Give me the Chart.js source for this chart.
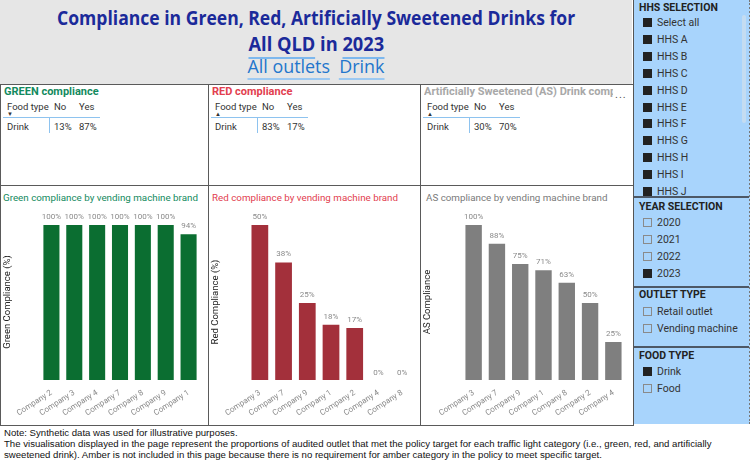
<!DOCTYPE html>
<html>
<head>
<meta charset="utf-8">
<script src="https://cdn.jsdelivr.net/npm/chart.js@4.4.1/dist/chart.umd.min.js"></script>
<style>
  body { margin: 0; width: 750px; height: 463px; background: #fff; position: relative; overflow: hidden; font-family: Roboto, "Open Sans", sans-serif; }
  .abs { position: absolute; }
  #header { left: 0; top: 0; width: 632px; height: 84px; background: #e6e6e6; border-bottom: 1px solid #9a9a9a; }
  .tline { position: absolute; left: 0; width: 632px; text-align: center; white-space: nowrap; }
  .tline span { display: inline-block; transform-origin: center; }
  .card { position: absolute; background: #fff; border: 1px solid #5a5a5a; box-sizing: border-box; }
  .ctitle { position: absolute; font-weight: bold; font-size: 11px; white-space: nowrap; overflow: hidden; }
  .tbl { position: absolute; font-family: Roboto, sans-serif; font-size: 9.5px; color: #333; }
  .tbl div { position: absolute; white-space: nowrap; }
  .chtitle { position: absolute; font-size: 9.8px; white-space: nowrap; }
  #panel { left: 633px; top: 0; width: 115px; height: 424px; background: #a8d4fc; border-left: 1px solid #555; border-right: 2px dotted #777; }
  .ph { position: absolute; left: 5px; font-weight: bold; font-size: 10.5px; color: #222; }
  .item { position: absolute; left: 9px; font-size: 10.5px; color: #333; white-space: nowrap; }
  .box { display: inline-block; width: 9px; height: 9px; vertical-align: -1px; margin-right: 5px; box-sizing: border-box; }
  .on { background: #222; }
  .off { border: 1px solid #8a8a8a; }
  .sep { position: absolute; left: 0; width: 115px; height: 0; border-top: 2px solid #4d5866; }
  .ul1 { text-decoration: none; border-bottom: 2px solid #7db8ee; }
  .ul2 { text-decoration: none; border-bottom: 2px solid #9cc9f2; }
  #foot { left: 4px; top: 428px; font-family: "Liberation Sans", Arial, sans-serif; font-size: 9.6px; line-height: 10.8px; color: #111; }
</style>
</head>
<body>
<div id="header" class="abs">
  <div class="tline" style="top:4px;font-size:20px;font-weight:bold;color:#1b2a9a;font-family:'Open Sans',sans-serif;"><span id="t1"></span></div>
  <div class="tline" style="top:30px;font-size:20px;font-weight:bold;color:#1b2a9a;font-family:'Open Sans',sans-serif;"><span id="t2"></span></div>
  <div class="tline" style="top:54px;font-size:18px;color:#2376cc;font-family:'Open Sans',sans-serif;"><span id="t3"></span></div>
</div>

<div class="card" style="left:0;top:84px;width:210px;height:102px;"></div>
<div class="card" style="left:208px;top:84px;width:214px;height:102px;"></div>
<div class="card" style="left:420px;top:84px;width:214px;height:102px;"></div>
<div class="card" style="left:0;top:185px;width:210px;height:241px;"></div>
<div class="card" style="left:208px;top:185px;width:214px;height:241px;"></div>
<div class="card" style="left:420px;top:185px;width:214px;height:241px;"></div>

<div id="tables"></div>

<div class="chtitle" style="left:3px;top:192px;color:#138a5e;">Green compliance by vending machine brand</div>
<div class="chtitle" style="left:212px;top:192px;color:#e2404f;">Red compliance by vending machine brand</div>
<div class="chtitle" style="left:426px;top:192px;color:#7a7a7a;">AS compliance by vending machine brand</div>

<canvas id="greenChart" class="abs" style="left:2px;top:205px;" width="205" height="219"></canvas>
<canvas id="redChart" class="abs" style="left:210px;top:205px;" width="209" height="219"></canvas>
<canvas id="asChart" class="abs" style="left:422px;top:205px;" width="209" height="219"></canvas>

<div id="panel" class="abs"></div>

<div id="foot" class="abs">
  Note: Synthetic data was used for illustrative purposes.<br>
  The visualisation displayed in the page represent the proportions of audited outlet that met the policy target for each traffic light category (i.e., green, red, and artificially<br>
  sweetened drink). Amber is not included in this page because there is no requirement for amber category in the policy to meet specific target.
</div>

<script>
const greenBrands = ['Company 2', 'Company 3', 'Company 4', 'Company 7', 'Company 8', 'Company 9', 'Company 1'];
const greenValues = [100, 100, 100, 100, 100, 100, 94];
const redBrands = ['Company 3', 'Company 7', 'Company 9', 'Company 1', 'Company 2', 'Company 4', 'Company 8'];
const redValues = [50, 38, 25, 18, 17, 0, 0];
const asBrands = ['Company 3', 'Company 7', 'Company 9', 'Company 1', 'Company 8', 'Company 2', 'Company 4'];
const asValues = [100, 88, 75, 71, 63, 50, 25];

const tableTitles = ['GREEN compliance', 'RED compliance', 'Artificially Sweetened (AS) Drink compliance'];
const tableNo = [13, 83, 30];
const tableYes = [87, 17, 70];

const hhsList = ['Select all', 'HHS A', 'HHS B', 'HHS C', 'HHS D', 'HHS E', 'HHS F', 'HHS G', 'HHS H', 'HHS I', 'HHS J'];
const years = ['2020', '2021', '2022', '2023'];
const yearsOn = [false, false, false, true];
const outletTypes = ['Retail outlet', 'Vending machine'];
const foodTypes = ['Drink', 'Food'];
const foodOn = [true, false];

// header
document.getElementById('t1').textContent = 'Compliance in Green, Red, Artificially Sweetened Drinks for';
document.getElementById('t2').innerHTML = '<u class="ul1">All QLD</u> in <u class="ul1">2023</u>';
document.getElementById('t3').innerHTML = '<u class="ul2">All outlets</u>&nbsp; <u class="ul2">Drink</u>';
function fitWidth(id, target) {
    const el = document.getElementById(id);
    el.style.transform = 'scaleX(' + (target / el.offsetWidth) + ')';
}
fitWidth('t1', 518);
fitWidth('t2', 136);
fitWidth('t3', 137);

// top tables
const tables = document.getElementById('tables');
const cardLefts = [0, 208, 420];
const titleColors = ['#138a5e', '#e2404f', '#a8a8a8'];
tableTitles.forEach((title, i) => {
    const L = cardLefts[i];
    const arrow = i === 0 ? '&#9660;' : '&#9650;';
    tables.innerHTML += `
      <div class="ctitle" style="left:${L + 4}px;top:85px;color:${titleColors[i]};width:${i === 2 ? 190 : 200}px;">${title}</div>
      <div class="tbl" style="left:${L + 5}px;top:101px;">
        <div style="left:2px;top:0;">Food type</div>
        <div style="left:49px;top:0;">No</div>
        <div style="left:74px;top:0;">Yes</div>
        <div style="left:2px;top:9px;font-size:6px;">${arrow}</div>
        <div style="left:-2px;top:16px;width:97px;border-top:1.5px solid #8ec3ef;"></div>
        <div style="left:44px;top:17px;height:15px;border-left:1.5px solid #8ec3ef;"></div>
        <div style="left:2px;top:20px;">Drink</div>
        <div style="left:49px;top:20px;">${tableNo[i]}%</div>
        <div style="left:74px;top:20px;">${tableYes[i]}%</div>
      </div>`;
});
tables.innerHTML += '<div class="abs" style="left:613px;top:88px;font-size:11px;color:#555;letter-spacing:1px;background:#fff;padding-left:2px;">...</div>';

// slicer panel
const panel = document.getElementById('panel');
let html = '<div class="ph" style="top:1px;">HHS SELECTION</div>';
hhsList.forEach((h, i) => {
    html += `<div class="item" style="top:${16 + i * 16.9}px;"><span class="box on"></span>${h}</div>`;
});
html += '<div class="abs" style="left:108px;top:15px;width:4px;height:108px;background:#c4dcf1;border-radius:2px;"></div>';
html += '<div class="sep" style="top:196px;"></div>';
html += '<div class="ph" style="top:200px;">YEAR SELECTION</div>';
years.forEach((y, i) => {
    html += `<div class="item" style="top:${216 + i * 16.9}px;"><span class="box ${yearsOn[i] ? 'on' : 'off'}"></span>${y}</div>`;
});
html += '<div class="sep" style="top:286px;"></div>';
html += '<div class="ph" style="top:288px;">OUTLET TYPE</div>';
outletTypes.forEach((o, i) => {
    html += `<div class="item" style="top:${305 + i * 16.9}px;"><span class="box off"></span>${o}</div>`;
});
html += '<div class="sep" style="top:346px;"></div>';
html += '<div class="ph" style="top:349px;">FOOD TYPE</div>';
foodTypes.forEach((f, i) => {
    html += `<div class="item" style="top:${365 + i * 16.9}px;"><span class="box ${foodOn[i] ? 'on' : 'off'}"></span>${f}</div>`;
});
panel.innerHTML = html;

// data labels above bars
const barLabels = {
    id: 'barLabels',
    afterDatasetsDraw(chart) {
        const ctx = chart.ctx;
        const ds = chart.data.datasets[0];
        ctx.save();
        ctx.font = '8px Roboto, sans-serif';
        ctx.fillStyle = '#8a8a8a';
        ctx.textAlign = 'center';
        ctx.textBaseline = 'bottom';
        chart.getDatasetMeta(0).data.forEach((bar, i) => {
            ctx.fillText(ds.data[i] + '%', bar.x, bar.y - 3);
        });
        ctx.restore();
    }
};

function makeChart(id, labels, values, color, yTitle, leftW, rightPad) {
    new Chart(document.getElementById(id).getContext('2d'), {
        type: 'bar',
        data: {
            labels: labels,
            datasets: [{
                data: values,
                backgroundColor: color,
                borderColor: 'rgba(255,255,255,0.35)',
                borderWidth: 1,
                categoryPercentage: 1,
                barPercentage: 0.79
            }]
        },
        options: {
            responsive: false,
            animation: false,
            layout: { padding: { top: 19, right: rightPad, left: 0, bottom: 0 } },
            plugins: { legend: { display: false }, tooltip: { enabled: false } },
            scales: {
                x: {
                    grid: { display: false },
                    border: { display: false },
                    ticks: { color: '#8a8a8a', font: { size: 8, family: 'Roboto' }, autoSkip: false, minRotation: 33, maxRotation: 33, padding: 0 },
                    afterFit: s => { s.height = 44; }
                },
                y: {
                    min: 0,
                    max: Math.max(...values),
                    grid: { display: false },
                    border: { display: false },
                    ticks: { display: false },
                    title: { display: true, text: yTitle, color: '#222', font: { size: 9.5, family: 'Roboto' }, padding: 0 },
                    afterFit: s => { s.width = leftW; }
                }
            }
        },
        plugins: [barLabels]
    });
}

makeChart('greenChart', greenBrands, greenValues, '#0b6e31', 'Green Compliance (%)', 38, 7);
makeChart('redChart', redBrands, redValues, '#a3303b', 'Red Compliance (%)', 38, 5);
makeChart('asChart', asBrands, asValues, '#7f7f7f', 'AS Compliance', 40, 6);
</script>
</body>
</html>
